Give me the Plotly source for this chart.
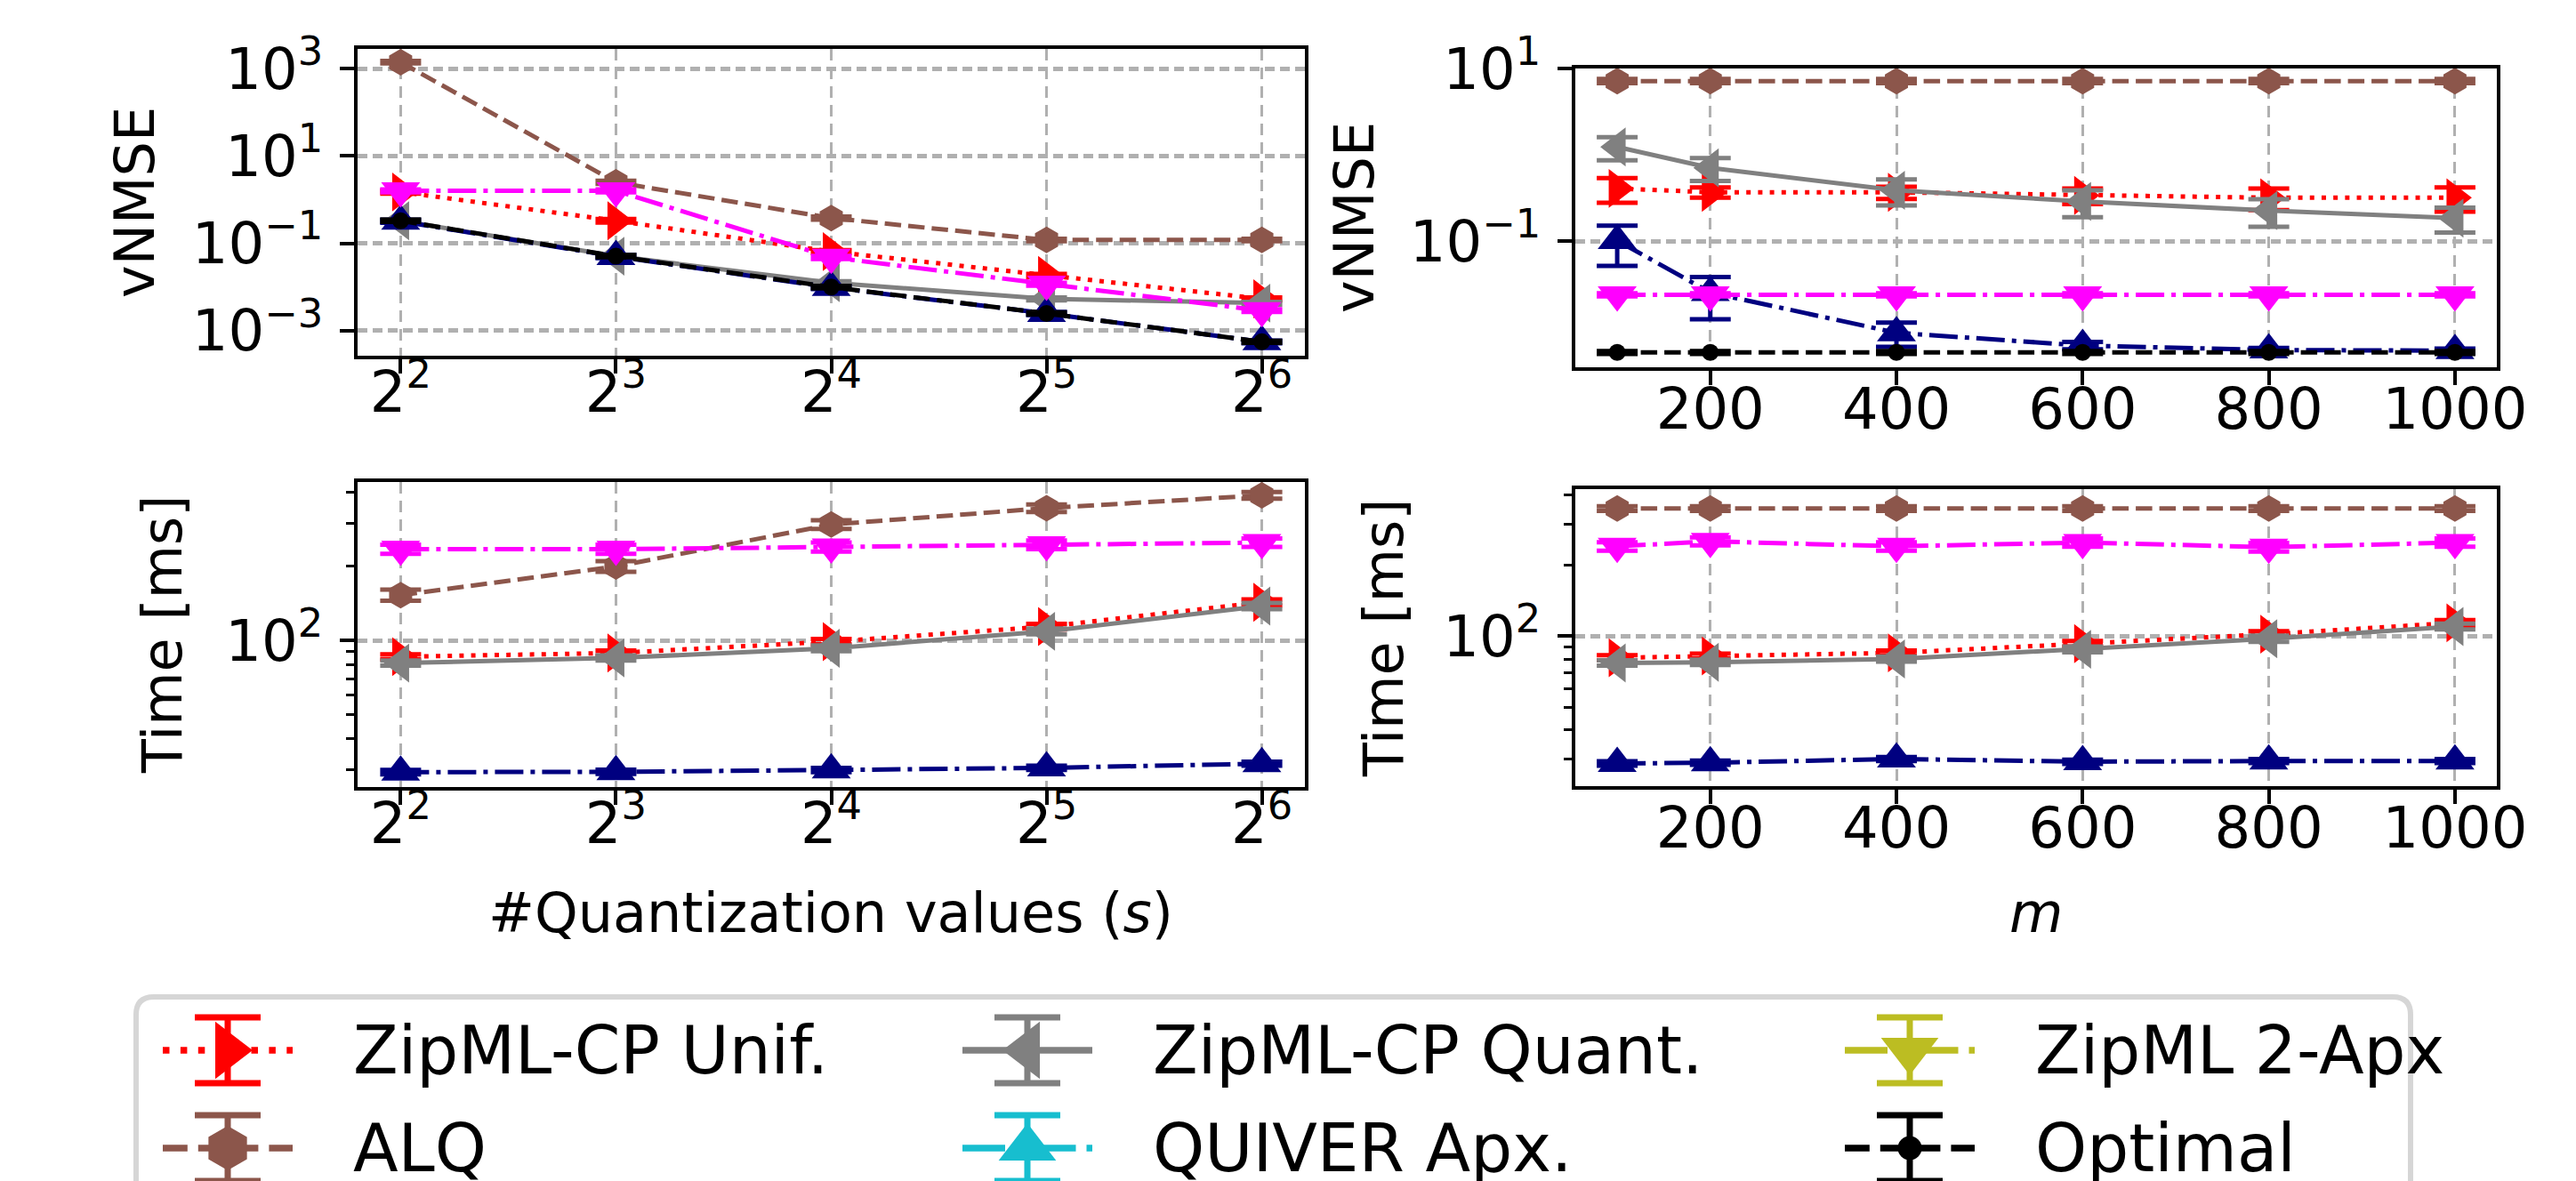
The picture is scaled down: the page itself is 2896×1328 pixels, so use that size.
import numpy as np
import plotly.graph_objects as go

W, H = 2896, 1328
FONT = "DejaVu Sans"

# ---------------- data ----------------
series = ["ZipML-CP Unif.", "ALQ", "ZipML-CP Quant.", "QUIVER Apx.", "ZipML 2-Apx", "Optimal"]

s_vals = [4, 8, 16, 32, 64]
s_tick_text = ["2<sup>2</sup>", "2<sup>3</sup>", "2<sup>4</sup>", "2<sup>5</sup>", "2<sup>6</sup>"]
m_vals = [100, 200, 400, 600, 800, 1000]
m_tick_vals = [200, 400, 600, 800, 1000]
m_tick_text = ["200", "400", "600", "800", "1000"]

nmse_left_tick_vals = [1e-3, 1e-1, 1e1, 1e3]
nmse_left_tick_text = ["10<sup>−3</sup>", "10<sup>−1</sup>", "10<sup>1</sup>", "10<sup>3</sup>"]
nmse_right_tick_vals = [1e-1, 1e1]
nmse_right_tick_text = ["10<sup>−1</sup>", "10<sup>1</sup>"]
time_tick_vals = [1e2]
time_tick_text = ["10<sup>2</sup>"]
time_minor_vals = [30, 40, 50, 60, 70, 80, 90, 200, 300, 400]

# vNMSE vs #quantization values s
vnmse_s_unif = [1.5, 0.33, 0.065, 0.0186, 0.0054]
vnmse_s_unif_err = [0.12, 0.03, 0.005, 0.0015, 0.0004]
vnmse_s_alq = [1400, 2.5, 0.38, 0.12, 0.12]
vnmse_s_alq_err = [90, 0.2, 0.03, 0.008, 0.008]
vnmse_s_quant = [0.33, 0.051, 0.0126, 0.0054, 0.0043]
vnmse_s_quant_err = [0.025, 0.004, 0.001, 0.0004, 0.0003]
vnmse_s_quiver = [0.32, 0.050, 0.0098, 0.0025, 0.00056]
vnmse_s_quiver_err = [0.025, 0.004, 0.0008, 0.0002, 0.00004]
vnmse_s_2apx = [1.6, 1.6, 0.048, 0.0117, 0.0029]
vnmse_s_2apx_err = [0.12, 0.12, 0.004, 0.0009, 0.0002]
vnmse_s_opt = [0.33, 0.051, 0.010, 0.0025, 0.00056]
vnmse_s_opt_err = [0.02, 0.003, 0.0006, 0.00015, 0.00003]

# vNMSE vs m
vnmse_m_unif = [0.41, 0.37, 0.37, 0.34, 0.32, 0.32]
vnmse_m_unif_err = [0.13, 0.05, 0.06, 0.07, 0.09, 0.10]
vnmse_m_alq = [7.2, 7.2, 7.2, 7.2, 7.2, 7.2]
vnmse_m_alq_err = [0.4, 0.4, 0.4, 0.4, 0.4, 0.4]
vnmse_m_quant = [1.24, 0.71, 0.39, 0.29, 0.227, 0.186]
vnmse_m_quant_err = [0.37, 0.21, 0.13, 0.10, 0.08, 0.06]
vnmse_m_quiver = [0.102, 0.0255, 0.0087, 0.0062, 0.0055, 0.0054]
vnmse_m_quiver_err = [0.05, 0.013, 0.0027, 0.0006, 0.0003, 0.0003]
vnmse_m_2apx = [0.024, 0.024, 0.024, 0.024, 0.024, 0.024]
vnmse_m_2apx_err = [0.001, 0.001, 0.001, 0.001, 0.001, 0.001]
vnmse_m_opt = [0.00515, 0.00515, 0.00515, 0.00515, 0.00515, 0.00515]
vnmse_m_opt_err = [0.0002, 0.0002, 0.0002, 0.0002, 0.0002, 0.0002]

# Time [ms] vs s
time_s_unif = [86, 89, 99, 114, 143]
time_s_unif_err = [2, 2, 2.5, 3, 4]
time_s_alq = [153, 200, 296, 345, 389]
time_s_alq_err = [8, 10, 12, 12, 12]
time_s_quant = [81, 85, 93, 109, 138]
time_s_quant_err = [2, 2, 2.5, 3, 4]
time_s_quiver = [29.2, 29.3, 29.8, 30.4, 31.6]
time_s_quiver_err = [0.6, 0.6, 0.6, 0.6, 0.6]
time_s_2apx = [235, 235, 240, 245, 250]
time_s_2apx_err = [10, 10, 10, 10, 10]

# Time [ms] vs m
time_m_unif = [81, 82.4, 85, 93, 102, 114]
time_m_unif_err = [2, 2, 2, 2.5, 3, 3]
time_m_alq = [349, 349, 349, 349, 349, 349]
time_m_alq_err = [8, 8, 8, 8, 8, 8]
time_m_quant = [77, 77.5, 80, 88, 97.6, 110]
time_m_quant_err = [2, 2, 2, 2.5, 3, 3]
time_m_quiver = [28.8, 29.0, 30.1, 29.3, 29.5, 29.5]
time_m_quiver_err = [0.6, 0.6, 0.6, 0.6, 0.6, 0.6]
time_m_2apx = [241, 253, 241, 250, 239, 250]
time_m_2apx_err = [10, 10, 10, 10, 10, 10]

# ---------------- styles ----------------
plot_colors = {"ZipML-CP Unif.": "#ff0000", "ALQ": "#8c564b", "ZipML-CP Quant.": "#808080",
               "QUIVER Apx.": "#000080", "ZipML 2-Apx": "#ff00ff", "Optimal": "#000000"}
legend_colors = {"ZipML-CP Unif.": "#ff0000", "ALQ": "#8c564b", "ZipML-CP Quant.": "#808080",
                 "QUIVER Apx.": "#17becf", "ZipML 2-Apx": "#bcbd22", "Optimal": "#000000"}
symbols = {"ZipML-CP Unif.": "triangle-right", "ALQ": "hexagon", "ZipML-CP Quant.": "triangle-left",
           "QUIVER Apx.": "triangle-up", "ZipML 2-Apx": "triangle-down", "Optimal": "circle"}
line_styles = {"ZipML-CP Unif.": "dotted", "ALQ": "dashed", "ZipML-CP Quant.": "solid",
               "QUIVER Apx.": "dashdot", "ZipML 2-Apx": "dashdot", "Optimal": "dashed"}
plot_msize = {"triangle-right": 38, "triangle-left": 38, "triangle-up": 38, "triangle-down": 38,
              "hexagon": 30, "circle": 19}
legend_msize = {"triangle-right": 56, "triangle-left": 56, "triangle-up": 56, "triangle-down": 56,
                "hexagon": 50, "circle": 27}


def dash_of(style, lw):
    if style == "dotted":
        return f"{lw:.1f}px,{1.65 * lw:.1f}px"
    if style == "dashed":
        return f"{3.7 * lw:.1f}px,{1.6 * lw:.1f}px"
    if style == "dashdot":
        return f"{6.4 * lw:.1f}px,{1.6 * lw:.1f}px,{lw:.1f}px,{1.6 * lw:.1f}px"
    return "solid"


panel_data = {
    "A": (s_vals, {"ZipML-CP Unif.": (vnmse_s_unif, vnmse_s_unif_err),
                   "ALQ": (vnmse_s_alq, vnmse_s_alq_err),
                   "ZipML-CP Quant.": (vnmse_s_quant, vnmse_s_quant_err),
                   "QUIVER Apx.": (vnmse_s_quiver, vnmse_s_quiver_err),
                   "ZipML 2-Apx": (vnmse_s_2apx, vnmse_s_2apx_err),
                   "Optimal": (vnmse_s_opt, vnmse_s_opt_err)}),
    "B": (m_vals, {"ZipML-CP Unif.": (vnmse_m_unif, vnmse_m_unif_err),
                   "ALQ": (vnmse_m_alq, vnmse_m_alq_err),
                   "ZipML-CP Quant.": (vnmse_m_quant, vnmse_m_quant_err),
                   "QUIVER Apx.": (vnmse_m_quiver, vnmse_m_quiver_err),
                   "ZipML 2-Apx": (vnmse_m_2apx, vnmse_m_2apx_err),
                   "Optimal": (vnmse_m_opt, vnmse_m_opt_err)}),
    "C": (s_vals, {"ZipML-CP Unif.": (time_s_unif, time_s_unif_err),
                   "ALQ": (time_s_alq, time_s_alq_err),
                   "ZipML-CP Quant.": (time_s_quant, time_s_quant_err),
                   "QUIVER Apx.": (time_s_quiver, time_s_quiver_err),
                   "ZipML 2-Apx": (time_s_2apx, time_s_2apx_err)}),
    "D": (m_vals, {"ZipML-CP Unif.": (time_m_unif, time_m_unif_err),
                   "ALQ": (time_m_alq, time_m_alq_err),
                   "ZipML-CP Quant.": (time_m_quant, time_m_quant_err),
                   "QUIVER Apx.": (time_m_quiver, time_m_quiver_err),
                   "ZipML 2-Apx": (time_m_2apx, time_m_2apx_err)}),
}
panel_axes = {"A": ("x", "y"), "B": ("x2", "y2"), "C": ("x3", "y3"), "D": ("x4", "y4")}
# pixel boxes (left, top, right, bottom)
panel_boxes = {"A": (394, 47, 1459, 392), "B": (1763, 69, 2799, 405),
               "C": (394, 534, 1459, 877), "D": (1763, 542, 2799, 876)}

LW = 5
fig = go.Figure()

for p, (xs, dd) in panel_data.items():
    xa, ya = panel_axes[p]
    for name in series:
        if name not in dd:
            continue
        ys, es = dd[name]
        sym = symbols[name]
        col = plot_colors[name]
        fig.add_trace(go.Scatter(
            x=xs, y=ys, xaxis=xa, yaxis=ya, mode="lines+markers", showlegend=False,
            line=dict(color=col, width=LW, dash=dash_of(line_styles[name], LW)),
            marker=dict(symbol=sym, size=plot_msize[sym], color=col, line=dict(width=0)),
            error_y=dict(type="data", array=es, symmetric=True, visible=True,
                         color=col, thickness=5, width=23),
        ))

# ---------------- legend (drawn on a pixel overlay axis) ----------------
LEG_LW = 7.5
leg_col_x = [175, 1074, 2066]
leg_row_y = [1173, 1283]
leg_handle_w = 146
for i, name in enumerate(series):
    cx = leg_col_x[i // 2]
    cy = leg_row_y[i % 2]
    col = legend_colors[name]
    sym = symbols[name]
    fig.add_trace(go.Scatter(
        x=[cx, cx + leg_handle_w], y=[cy, cy], xaxis="x5", yaxis="y5", mode="lines",
        showlegend=False, hoverinfo="skip",
        line=dict(color=col, width=LEG_LW, dash=dash_of(line_styles[name], LEG_LW))))
    fig.add_trace(go.Scatter(
        x=[cx + leg_handle_w / 2], y=[cy], xaxis="x5", yaxis="y5", mode="markers",
        showlegend=False, hoverinfo="skip",
        marker=dict(symbol=sym, size=legend_msize[sym], color=col, line=dict(width=0)),
        error_y=dict(type="data", array=[37], symmetric=True, visible=True,
                     color=col, thickness=7, width=37)))

annotations = []
for i, name in enumerate(series):
    annotations.append(dict(
        x=leg_col_x[i // 2] + 212, y=leg_row_y[i % 2], xref="x5", yref="y5",
        text=name, showarrow=False, xanchor="left", yanchor="middle",
        height=86, valign="middle",
        font=dict(family=FONT, size=74, color="black")))

# axis titles
axis_titles = [
    ("vNMSE", 143, 220, -90),
    ("vNMSE", 1514, 237, -90),
    ("Time [ms]", 174, 705, -90),
    ("Time [ms]", 1547, 709, -90),
    ("#Quantization values (<i>s</i>)", 926, 1018, 0),
    ("<i>m</i>", 2281, 1018, 0),
]
for txt, ax_, ay_, ang in axis_titles:
    annotations.append(dict(
        x=ax_, y=ay_, xref="x5", yref="y5", text=txt, showarrow=False,
        xanchor="center", yanchor="middle", textangle=ang,
        font=dict(family=FONT, size=62, color="black")))

# legend frame (rounded)
l, t, r, b, rad = 145, 1113, 2702, 1420, 20
frame_path = (f"M {l + rad},{t} L {r - rad},{t} Q {r},{t} {r},{t + rad} L {r},{b} "
              f"L {l},{b} L {l},{t + rad} Q {l},{t} {l + rad},{t} Z")
shapes = [dict(type="path", path=frame_path, xref="x5", yref="y5",
               line=dict(color="#d6d6d6", width=6), fillcolor="white", layer="below")]

# ---------------- axes ----------------
axis_common = dict(showline=True, mirror=True, linecolor="black", linewidth=4,
                   ticks="outside", ticklen=16, tickwidth=4, tickcolor="black",
                   tickfont=dict(family=FONT, size=64, color="black"),
                   showgrid=True, gridcolor="#b0b0b0", zeroline=False,
                   automargin=False, fixedrange=True)


def dom_x(box):
    return [box[0] / W, box[2] / W]


def dom_y(box):
    return [1 - box[3] / H, 1 - box[1] / H]


log2 = np.log10(2)
s_range = [1.8 * log2, 6.2 * log2]
m_range = [55, 1045]

layout_axes = {}
x_specs = {"A": ("log", s_range, s_vals, s_tick_text), "B": ("linear", m_range, m_tick_vals, m_tick_text),
           "C": ("log", s_range, s_vals, s_tick_text), "D": ("linear", m_range, m_tick_vals, m_tick_text)}
y_specs = {"A": ([-3.57, 3.45], nmse_left_tick_vals, nmse_left_tick_text, None),
           "B": ([-2.46, 1.003], nmse_right_tick_vals, nmse_right_tick_text, None),
           "C": ([1.405, 2.644], time_tick_vals, time_tick_text, time_minor_vals),
           "D": ([1.363, 2.625], time_tick_vals, time_tick_text, time_minor_vals)}
x_standoff = {"A": -34, "B": -28, "C": -34, "D": -28}
for k, p in enumerate(["A", "B", "C", "D"]):
    idx = "" if k == 0 else str(k + 1)
    box = panel_boxes[p]
    xt, xr, xv, xtt = x_specs[p]
    layout_axes["xaxis" + idx] = dict(axis_common, type=xt, range=xr, domain=dom_x(box),
                                      anchor="y" + idx, tickmode="array", tickvals=xv, ticktext=xtt,
                                      gridwidth=3, griddash="13px,8px",
                                      ticklabelstandoff=x_standoff[p])
    yr, yv, ytt, ymin = y_specs[p]
    ya = dict(axis_common, type="log", range=yr, domain=dom_y(box), anchor="x" + idx,
              tickmode="array", tickvals=yv, ticktext=ytt, gridwidth=4.5, griddash="11px,6px",
              ticklabelstandoff=6)
    if ymin is not None:
        ya["minor"] = dict(tickmode="array", tickvals=ymin, ticks="outside", ticklen=9,
                           tickwidth=3, tickcolor="black", showgrid=False)
    layout_axes["yaxis" + idx] = ya

layout_axes["xaxis5"] = dict(domain=[0, 1], range=[0, W], visible=False, anchor="y5", fixedrange=True)
layout_axes["yaxis5"] = dict(domain=[0, 1], range=[H, 0], visible=False, anchor="x5", fixedrange=True)

fig.update_layout(
    width=W, height=H, margin=dict(l=0, r=0, t=0, b=0, pad=0),
    paper_bgcolor="white", plot_bgcolor="rgba(0,0,0,0)",
    showlegend=False, annotations=annotations, shapes=shapes,
    font=dict(family=FONT, color="black"),
    **layout_axes,
)

fig.write_html("out.html", config={"displayModeBar": False})
